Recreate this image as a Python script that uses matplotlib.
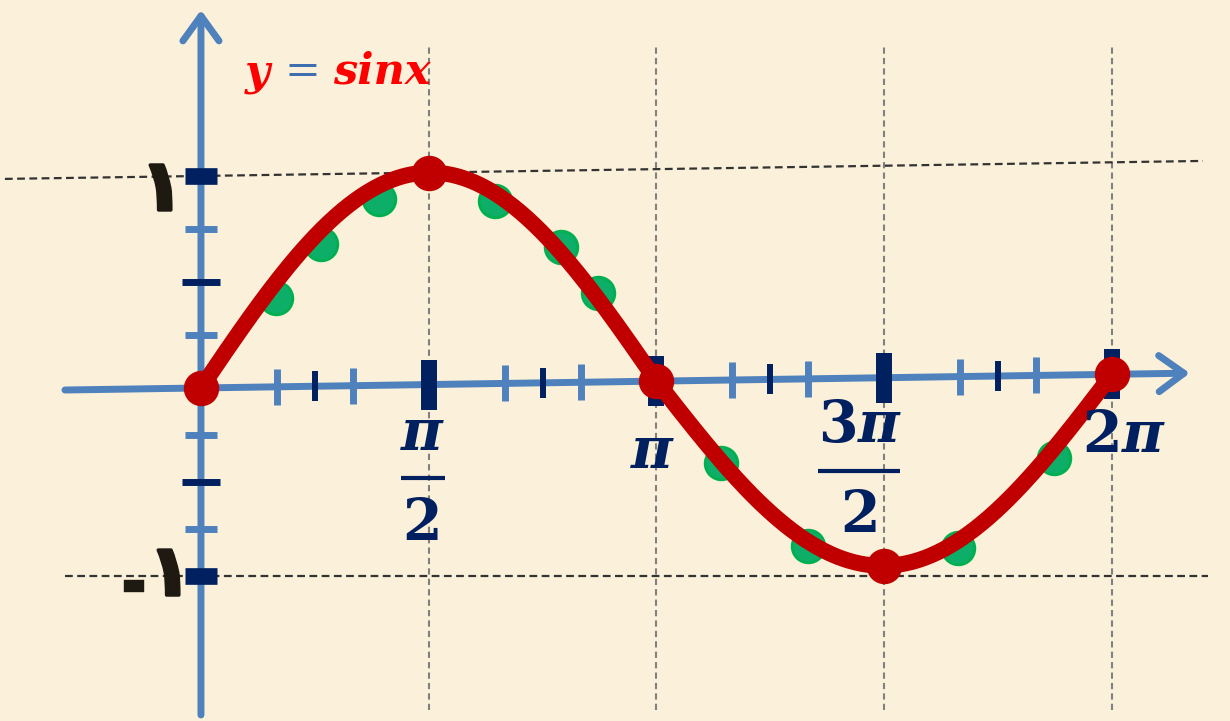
import numpy as np
import matplotlib
matplotlib.use("Agg")
import matplotlib.pyplot as plt
from matplotlib.transforms import Affine2D, offset_copy
from matplotlib import patheffects

plt.rcParams['mathtext.fontset'] = 'custom'
plt.rcParams['mathtext.rm'] = 'DejaVu Serif:bold'
plt.rcParams['mathtext.it'] = 'DejaVu Serif:bold:italic'
plt.rcParams['mathtext.bf'] = 'DejaVu Serif:bold'

# y = sin x over one period
x_curve = np.linspace(0, 2 * np.pi, 400)
y_curve = np.sin(x_curve)

# points marked on the curve
key_x = [0, np.pi / 2, np.pi, 3 * np.pi / 2, 2 * np.pi]
key_y = [0, 1, 0, -1, 0]

# green helper points
dot_x = [0.52, 0.83, 1.23, 2.03, 2.48, 2.74, 3.59, 4.19, 5.22, 5.88]
dot_y = [0.42, 0.67, 0.88, 0.86, 0.64, 0.42, -0.44, -0.89, -0.91, -0.44]

# x axis ticks
major_x = [np.pi / 2, np.pi, 3 * np.pi / 2, 2 * np.pi]
mid_x = [np.pi / 4 + k * np.pi / 2 for k in range(4)]
minor_x = [a + k * np.pi / 2 for k in range(4) for a in (np.pi / 6, np.pi / 3)]

# y axis ticks
major_y = [1, -1]
mid_y = [0.5, -0.5]
minor_y = [0.25, 0.75, -0.25, -0.75]

AXIS = '#4F81BD'
NAVY = '#002060'
RED = '#C00000'
INK = '#1E1A12'
BG = '#FBF1DA'

fig = plt.figure(figsize=(12.3, 7.21), dpi=100, facecolor=BG)
ax = fig.add_axes([0, 0, 1, 1])
ax.axis('off')

# the lower half is drawn a little flatter than the upper half
squash = 0.887
def fwd(v):
    v = np.asarray(v, dtype=float)
    return np.where(v >= 0, v, v * squash)
def inv(v):
    v = np.asarray(v, dtype=float)
    return np.where(v >= 0, v, v / squash)
ax.set_yscale('function', functions=(fwd, inv))
ax.set_xlim(-1.386, 7.097)
ax.set_ylim(-1.771, 1.830)

# slight upward tilt of the x axis
x0 = ax.transData.transform((0, 0))[0]
tilt = ax.transData + Affine2D().translate(-x0, 0).skew(0, np.arctan(0.015)).translate(x0, 0)

# grid
for xv in major_x:
    ax.plot([xv, xv], [-1.71, 1.61], color='#808080', lw=1.5,
            dashes=(3, 2), zorder=1)
ax.plot([-1.352, 6.91], [1, 1], color='#333333', lw=1.6, dashes=(3.5, 2),
        transform=tilt, zorder=1)
ax.plot([-0.938, 6.945], [-1, -1], color='#333333', lw=1.6, dashes=(3.5, 2),
        zorder=1)

# axes with open arrow heads
arrow = dict(arrowstyle='->,head_length=0.9,head_width=0.65', color=AXIS,
             lw=5, shrinkA=0, shrinkB=0, mutation_scale=20)
ax.annotate('', xy=(6.82, 0), xytext=(-0.938, 0), xycoords=tilt,
            textcoords=tilt, arrowprops=arrow, zorder=2)
ax.annotate('', xy=(0, 1.783), xytext=(0, -1.739), xycoords=ax.transData,
            textcoords=ax.transData, arrowprops=arrow, zorder=2)

# tick marks on x axis
ax.plot(minor_x, [0] * len(minor_x), ls='none', marker='|', ms=26.5, mew=5,
        color=AXIS, transform=tilt, zorder=3)
ax.plot(mid_x, [0] * len(mid_x), ls='none', marker='|', ms=21.5, mew=4.3,
        color=NAVY, transform=tilt, zorder=3)
ax.plot(major_x, [0] * len(major_x), ls='none', marker='|', ms=36, mew=11.5,
        color=NAVY, transform=tilt, zorder=3)

# tick marks on y axis
ax.plot([0] * len(minor_y), minor_y, ls='none', marker='_', ms=23, mew=5,
        color=AXIS, zorder=3)
ax.plot([0] * len(mid_y), mid_y, ls='none', marker='_', ms=27, mew=5,
        color=NAVY, zorder=3)
ax.plot([0] * len(major_y), major_y, ls='none', marker='_', ms=22.5, mew=12,
        color=NAVY, zorder=3)

# points and curve
ax.plot(dot_x, dot_y, ls='none', marker='o', ms=23.5, mfc='#0DAE68',
        mec='#00B050', mew=2, transform=tilt, zorder=4)
ax.plot(x_curve, y_curve, color=RED, lw=11.5, solid_capstyle='round',
        transform=tilt, zorder=5)
ax.plot(key_x, key_y, ls='none', marker='o', ms=24.5, color=RED,
        transform=tilt, zorder=6)

# x labels, placed relative to their tick
def label(s, xv, dx, dy, size=41, ha='center'):
    ax.annotate(s, xy=(xv, 0), xycoords=tilt, xytext=(dx, dy),
                textcoords='offset pixels', ha=ha, va='baseline',
                fontsize=size, color=NAVY, zorder=7)

def frac_bar(xv, dx, dy, width):
    tr = offset_copy(tilt, fig=fig, x=dx, y=dy, units='dots')
    ax.plot([xv], [0], marker='_', ms=width * 0.72, mew=3, color=NAVY,
            transform=tr, zorder=7)

label(r'$\pi$', major_x[0], -6, -65)
frac_bar(major_x[0], -6, -93, 44)
label(r'$2$', major_x[0], -8, -155)

label(r'$\pi$', major_x[1], -4, -87)

label(r'$3\pi$', major_x[2], -24, -64)
frac_bar(major_x[2], -25, -93, 82)
label(r'$2$', major_x[2], -26, -154)

label(r'$2\pi$', major_x[3], 12, -78)

# y labels in Arabic-Indic digits
thick = [patheffects.withStroke(linewidth=2.5, foreground=INK)]
ax.annotate('١', xy=(0, 1), xycoords=tilt, xytext=(-39, -34),
            textcoords='offset pixels', ha='center', va='baseline',
            fontsize=51, fontweight='bold', family='DejaVu Sans',
            color=INK, zorder=7, path_effects=thick)
ax.annotate('١', xy=(0, -1), xycoords=tilt, xytext=(-31, -19),
            textcoords='offset pixels', ha='center', va='baseline',
            fontsize=51, fontweight='bold', family='DejaVu Sans',
            color=INK, zorder=7, path_effects=thick)
ax.annotate('-', xy=(0, -1), xycoords=tilt, xytext=(-67, -22),
            textcoords='offset pixels', ha='center', va='baseline',
            fontsize=31, fontweight='bold', family='DejaVu Sans',
            color=INK, zorder=7,
            path_effects=[patheffects.withStroke(linewidth=4.6,
                                                 foreground=INK,
                                                 joinstyle='miter')])

# title
W, H = 1230.0, 721.0
fig.text(257 / W, 1 - 84 / H, 'y', ha='center', va='baseline', fontsize=31,
         family='DejaVu Serif', fontweight='bold', fontstyle='italic',
         color='#FF0000')
fig.text(302 / W, 1 - 84 / H, '=', ha='center', va='baseline', fontsize=31,
         family='DejaVu Serif', color='#3F6EAE')
fig.text(382 / W, 1 - 84 / H, 'sinx', ha='center', va='baseline', fontsize=31,
         family='DejaVu Serif', fontweight='bold', fontstyle='italic',
         color='#FF0000')

fig.savefig('out.png', dpi=100, facecolor=BG)
